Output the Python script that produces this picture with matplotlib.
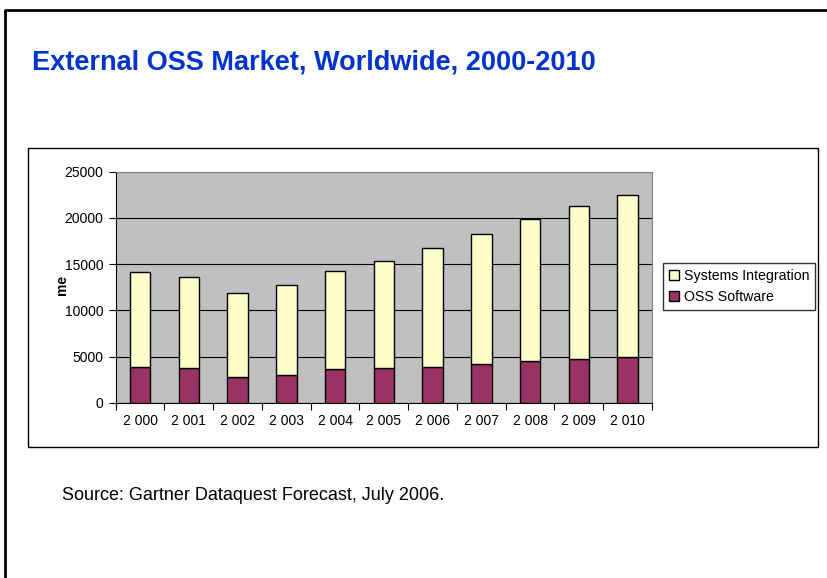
import matplotlib.pyplot as plt
from matplotlib.patches import Rectangle
from matplotlib.lines import Line2D

plt.rcParams['font.family'] = ['Liberation Sans', 'DejaVu Sans']

# data
years = ["2 000", "2 001", "2 002", "2 003", "2 004", "2 005",
         "2 006", "2 007", "2 008", "2 009", "2 010"]
ossSoftware = [3900, 3800, 2850, 3000, 3700, 3800, 3900, 4250, 4500, 4750, 5000]
totals = [14200, 13600, 11850, 12800, 14300, 15350, 16800, 18300, 19850, 21300, 22500]
sysIntegration = [t - o for t, o in zip(totals, ossSoftware)]

W, H = 828, 578
fig = plt.figure(figsize=(W / 100, H / 100), dpi=100)

# slide frame (left and top edges visible)
fig.add_artist(Line2D([5 / W, 5 / W, 1.0], [0.0, 1 - 10 / H, 1 - 10 / H],
                      transform=fig.transFigure, color="black", lw=2))

# chart box
fig.add_artist(Rectangle((28 / W, 1 - 447 / H), (818 - 28) / W, (447 - 148) / H,
                         transform=fig.transFigure, fill=False,
                         edgecolor="black", lw=1))

fig.text(32 / W, 1 - 62 / H, "External OSS Market, Worldwide, 2000-2010",
         color="#0033CC", fontsize=19.5, fontweight="bold", va="center", ha="left")

fig.text(62 / W, 1 - 495 / H, "Source: Gartner Dataquest Forecast, July 2006.",
         fontsize=13, va="center", ha="left")

ax = fig.add_axes([115.7 / W, 1 - 403 / H, (652 - 115.7) / W, (403 - 171.7) / H])
ax.set_facecolor("#C0C0C0")

x = range(len(years))
b1 = ax.bar(x, ossSoftware, width=0.42, color="#993366", edgecolor="black",
            linewidth=1, zorder=3, label="OSS Software")
b2 = ax.bar(x, sysIntegration, width=0.42, bottom=ossSoftware, color="#FFFFCC",
            edgecolor="black", linewidth=1, zorder=3, label="Systems Integration")

ax.set_xlim(-0.5, len(years) - 0.5)
ax.set_ylim(0, 25000)
ax.set_yticks(range(0, 25001, 5000))
ax.yaxis.grid(True, color="black", lw=0.8, zorder=1)
ax.set_axisbelow(True)

# ticks between categories, labels centred under bars
ax.set_xticks([i - 0.5 for i in range(len(years) + 1)])
ax.set_xticklabels([])
ax.set_xticks(list(x), minor=True)
ax.set_xticklabels(years, minor=True)
ax.tick_params(axis="x", which="minor", length=0, pad=8, labelsize=10)
ax.tick_params(axis="x", which="major", length=5, direction="out")
ax.tick_params(axis="y", length=5, direction="out", labelsize=10, pad=4)

for side in ["top", "right"]:
    ax.spines[side].set_color("#808080")
ax.spines["left"].set_color("black")
ax.spines["bottom"].set_color("black")

fig.text(62 / W, 1 - 285 / H, "me", fontsize=10, fontweight="bold",
         rotation=90, va="center", ha="center")

leg = ax.legend(handles=[b2, b1], loc="center left",
                bbox_to_anchor=(663 / W, 1 - 286.5 / H),
                bbox_transform=fig.transFigure, fontsize=10.2, frameon=True,
                fancybox=False, edgecolor="black", handlelength=0.7,
                handleheight=0.7, handletextpad=0.3, borderpad=0.45,
                labelspacing=0.5, borderaxespad=0)
leg.get_frame().set_linewidth(1)

fig.savefig("out.png", dpi=100)
